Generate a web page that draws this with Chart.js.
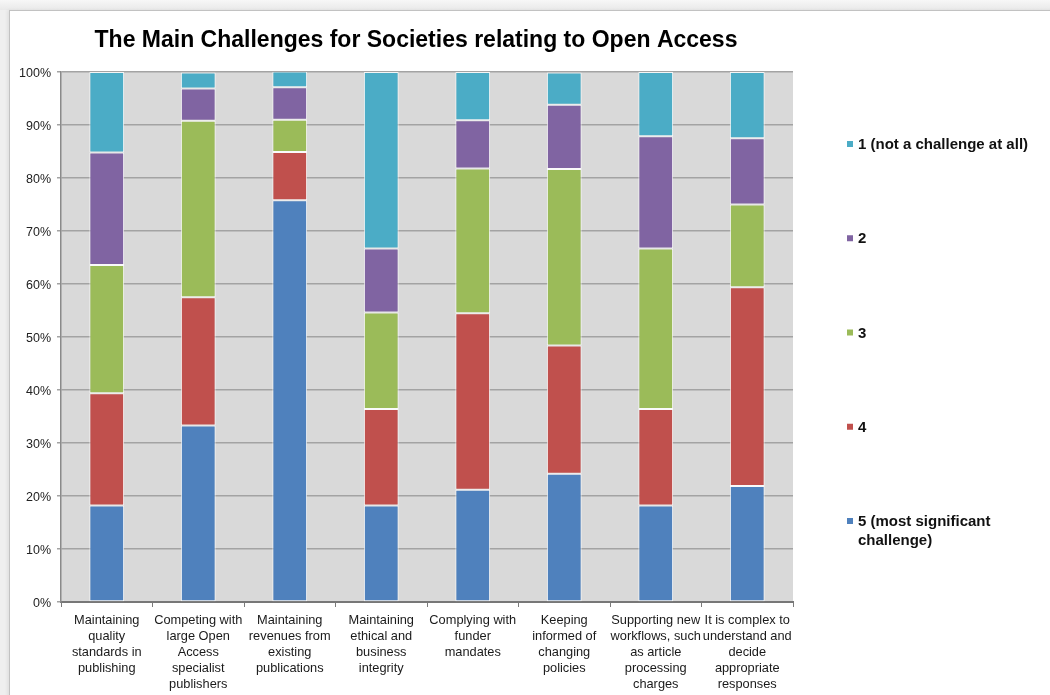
<!DOCTYPE html>
<html>
<head>
<meta charset="utf-8">
<title>The Main Challenges for Societies relating to Open Access</title>
<script src="https://cdn.jsdelivr.net/npm/chart.js@4/dist/chart.umd.min.js"></script>
<style>
  html, body { margin:0; padding:0; }
  body {
    width:1050px; height:695px; overflow:hidden; position:relative;
    background:linear-gradient(#f7f7f7, #e9e9e9 10px, #efefef 10px);
    font-family:'Liberation Sans', Arial, sans-serif;
  }
  #sheet {
    position:absolute; left:9px; top:10px; width:1100px; height:760px;
    background:#fff; border:1px solid #c2c2c2;
    box-shadow:-2px 0 3px rgba(0,0,0,0.06);
  }
  #wrap { position:absolute; left:0; top:0; width:1050px; height:695px; }
</style>
</head>
<body>
<div id="sheet"></div>
<div id="wrap"><canvas id="chart"></canvas></div>
<script>
// ---------- Data (share of respondents, %) ----------
const challenges = [
  ['Maintaining', 'quality', 'standards in', 'publishing'],
  ['Competing with', 'large Open', 'Access', 'specialist', 'publishers'],
  ['Maintaining', 'revenues from', 'existing', 'publications'],
  ['Maintaining', 'ethical and', 'business', 'integrity'],
  ['Complying with', 'funder', 'mandates'],
  ['Keeping', 'informed of', 'changing', 'policies'],
  ['Supporting new', 'workflows, such', 'as article', 'processing', 'charges'],
  ['It is complex to', 'understand and', 'decide', 'appropriate', 'responses']
];

const rating5 = [18.2, 33.3, 75.8, 18.2, 21.2, 24.2, 18.2, 21.9];
const rating4 = [21.2, 24.2,  9.1, 18.2, 33.3, 24.2, 18.2, 37.5];
const rating3 = [24.2, 33.3,  6.1, 18.2, 27.3, 33.3, 30.3, 15.6];
const rating2 = [21.2,  6.1,  6.1, 12.1,  9.1, 12.1, 21.2, 12.5];
const rating1 = [15.2,  3.0,  3.0, 33.3,  9.1,  6.1, 12.1, 12.5];

const seriesLabels = ['5 (most significant challenge)', '4', '3', '2', '1 (not a challenge at all)'];
const seriesColors = ['#4f81bd', '#c0504d', '#9bbb59', '#8064a2', '#4bacc6'];
const yTicks = [0, 10, 20, 30, 40, 50, 60, 70, 80, 90, 100];

const TITLE = 'The Main Challenges for Societies relating to Open Access';
const FONT = "'Liberation Sans', Arial, Helvetica, sans-serif";

// ---------- Plugins ----------
// grey plot background
const plotBg = {
  id: 'plotBg',
  beforeDraw(chart){
    const { ctx, chartArea: a } = chart;
    ctx.save();
    ctx.fillStyle = '#d9d9d9';
    ctx.fillRect(a.left, a.top, a.right - a.left, a.bottom - a.top);
    ctx.restore();
  }
};

// title, centred a little left of the plot
const topTitle = {
  id: 'topTitle',
  afterDraw(chart){
    const { ctx } = chart;
    ctx.save();
    ctx.font = 'bold 23px ' + FONT;
    ctx.fillStyle = '#000';
    ctx.textAlign = 'center';
    ctx.textBaseline = 'middle';
    ctx.fillText(TITLE, 416, 41);
    ctx.restore();
  }
};

// legend on the right, top item = last dataset, evenly spread over the plot height
const sideLegend = {
  id: 'sideLegend',
  afterDraw(chart){
    const { ctx } = chart;
    const sets = chart.data.datasets;
    const x0 = 847, top = 145, step = 94.25, maxW = 185, lh = 19;
    ctx.save();
    ctx.font = 'bold 15px ' + FONT;
    ctx.textBaseline = 'middle';
    ctx.textAlign = 'left';
    for (let i = sets.length - 1, k = 0; i >= 0; i--, k++) {
      const y = top + k * step;
      ctx.fillStyle = sets[i].backgroundColor;
      ctx.fillRect(x0, y - 4, 6, 6);
      // wrap label into lines
      const words = sets[i].label.split(' ');
      const lines = [];
      let cur = '';
      for (const w of words) {
        const t = cur ? cur + ' ' + w : w;
        if (ctx.measureText(t).width > maxW && cur) { lines.push(cur); cur = w; }
        else cur = t;
      }
      lines.push(cur);
      ctx.fillStyle = '#111';
      lines.forEach((ln, j) => ctx.fillText(ln, x0 + 11, y + j * lh));
    }
    ctx.restore();
  }
};

// ---------- Chart ----------
const datasets = [rating5, rating4, rating3, rating2, rating1].map((vals, i) => ({
  label: seriesLabels[i],
  data: vals,
  backgroundColor: seriesColors[i],
  borderColor: 'rgba(255,255,255,0.85)',
  borderWidth: 1,
  borderSkipped: false,
  categoryPercentage: 1,
  barPercentage: 0.38
}));

new Chart(document.getElementById('chart'), {
  type: 'bar',
  data: { labels: challenges, datasets },
  options: {
    responsive: true,
    maintainAspectRatio: false,
    animation: false,
    layout: { padding: { left: 0, right: 257, top: 72, bottom: 0 } },
    plugins: {
      legend: { display: false },
      tooltip: { enabled: false },
      title: { display: false }
    },
    scales: {
      x: {
        stacked: true,
        grid: { display: true, offset: true, drawOnChartArea: false, tickLength: 5, color: '#7a7a7a', lineWidth: 1 },
        border: { color: '#777', width: 2 },
        ticks: {
          autoSkip: false, maxRotation: 0, minRotation: 0, padding: 5,
          color: '#1a1a1a',
          font: { family: FONT, size: 12.8, lineHeight: '16px' }
        },
        afterFit(scale){ scale.height = 93; }
      },
      y: {
        stacked: true,
        min: 0, max: 100,
        afterBuildTicks(scale){ scale.ticks = yTicks.map(v => ({ value: v })); },
        grid: { color: '#a3a3a3', lineWidth: 1.5, tickLength: 4 },
        border: { color: '#8a8a8a', width: 1.5 },
        ticks: {
          padding: 6,
          labelOffset: 2,
          color: '#222',
          font: { family: FONT, size: 12.5 },
          callback: v => v + '%'
        },
        afterFit(scale){ scale.width = 61; }
      }
    }
  },
  plugins: [plotBg, topTitle, sideLegend]
});
</script>
</body>
</html>
